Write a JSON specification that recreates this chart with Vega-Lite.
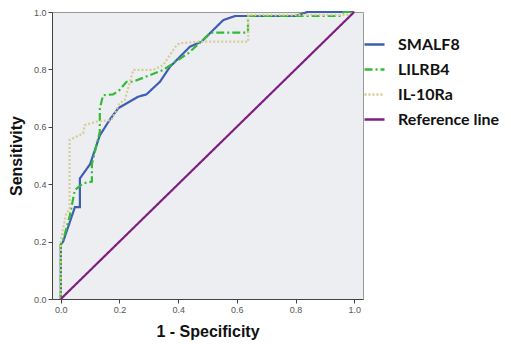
{
  "$schema": "https://vega.github.io/schema/vega-lite/v6.json",
  "width": 311,
  "height": 287,
  "autosize": "none",
  "padding": {"left": 52, "top": 12, "right": 148, "bottom": 45},
  "background": "white",
  "config": {
    "view": {"fill": "#EDEEF2", "stroke": "#999999", "strokeWidth": 1},
    "axis": {"grid": false, "labelFont": "Liberation Sans", "labelFontSize": 9, "labelColor": "#555555", "domainColor": "#444444", "tickColor": "#444444", "tickSize": 4, "titleFont": "Liberation Sans", "titleFontWeight": "bold", "titleFontSize": 16, "titleColor": "#111111"}
  },
  "data": {"values": [
    {"s": "SMALF8", "o": 1, "x": 0, "y": 0},
    {"s": "SMALF8", "o": 2, "x": 0, "y": 0.19},
    {"s": "SMALF8", "o": 3, "x": 0.008, "y": 0.2},
    {"s": "SMALF8", "o": 4, "x": 0.048, "y": 0.32},
    {"s": "SMALF8", "o": 5, "x": 0.065, "y": 0.32},
    {"s": "SMALF8", "o": 6, "x": 0.065, "y": 0.42},
    {"s": "SMALF8", "o": 7, "x": 0.1, "y": 0.47},
    {"s": "SMALF8", "o": 8, "x": 0.133, "y": 0.57},
    {"s": "SMALF8", "o": 9, "x": 0.167, "y": 0.625},
    {"s": "SMALF8", "o": 10, "x": 0.196, "y": 0.665},
    {"s": "SMALF8", "o": 11, "x": 0.264, "y": 0.705},
    {"s": "SMALF8", "o": 12, "x": 0.292, "y": 0.713},
    {"s": "SMALF8", "o": 13, "x": 0.338, "y": 0.757},
    {"s": "SMALF8", "o": 14, "x": 0.372, "y": 0.809},
    {"s": "SMALF8", "o": 15, "x": 0.44, "y": 0.879},
    {"s": "SMALF8", "o": 16, "x": 0.48, "y": 0.897},
    {"s": "SMALF8", "o": 17, "x": 0.531, "y": 0.949},
    {"s": "SMALF8", "o": 18, "x": 0.554, "y": 0.972},
    {"s": "SMALF8", "o": 19, "x": 0.594, "y": 0.986},
    {"s": "SMALF8", "o": 20, "x": 0.8, "y": 0.986},
    {"s": "SMALF8", "o": 21, "x": 0.84, "y": 1.0},
    {"s": "SMALF8", "o": 22, "x": 1, "y": 1},
    {"s": "LILRB4", "o": 1, "x": 0, "y": 0},
    {"s": "LILRB4", "o": 2, "x": 0, "y": 0.19},
    {"s": "LILRB4", "o": 3, "x": 0.008, "y": 0.206},
    {"s": "LILRB4", "o": 4, "x": 0.03, "y": 0.287},
    {"s": "LILRB4", "o": 5, "x": 0.048, "y": 0.38},
    {"s": "LILRB4", "o": 6, "x": 0.076, "y": 0.403},
    {"s": "LILRB4", "o": 7, "x": 0.106, "y": 0.409},
    {"s": "LILRB4", "o": 8, "x": 0.106, "y": 0.47},
    {"s": "LILRB4", "o": 9, "x": 0.133, "y": 0.583},
    {"s": "LILRB4", "o": 10, "x": 0.133, "y": 0.664},
    {"s": "LILRB4", "o": 11, "x": 0.144, "y": 0.71},
    {"s": "LILRB4", "o": 12, "x": 0.178, "y": 0.713},
    {"s": "LILRB4", "o": 13, "x": 0.2, "y": 0.728},
    {"s": "LILRB4", "o": 14, "x": 0.224, "y": 0.757},
    {"s": "LILRB4", "o": 15, "x": 0.245, "y": 0.757},
    {"s": "LILRB4", "o": 16, "x": 0.304, "y": 0.78},
    {"s": "LILRB4", "o": 17, "x": 0.349, "y": 0.798},
    {"s": "LILRB4", "o": 18, "x": 0.434, "y": 0.856},
    {"s": "LILRB4", "o": 19, "x": 0.49, "y": 0.908},
    {"s": "LILRB4", "o": 20, "x": 0.51, "y": 0.928},
    {"s": "LILRB4", "o": 21, "x": 0.638, "y": 0.928},
    {"s": "LILRB4", "o": 22, "x": 0.638, "y": 0.986},
    {"s": "LILRB4", "o": 23, "x": 0.95, "y": 0.986},
    {"s": "LILRB4", "o": 24, "x": 0.965, "y": 1.0},
    {"s": "LILRB4", "o": 25, "x": 1, "y": 1},
    {"s": "IL-10Ra", "o": 1, "x": 0, "y": 0},
    {"s": "IL-10Ra", "o": 2, "x": 0, "y": 0.206},
    {"s": "IL-10Ra", "o": 3, "x": 0.019, "y": 0.3},
    {"s": "IL-10Ra", "o": 4, "x": 0.03, "y": 0.31},
    {"s": "IL-10Ra", "o": 5, "x": 0.03, "y": 0.554},
    {"s": "IL-10Ra", "o": 6, "x": 0.076, "y": 0.577},
    {"s": "IL-10Ra", "o": 7, "x": 0.082, "y": 0.606},
    {"s": "IL-10Ra", "o": 8, "x": 0.122, "y": 0.618},
    {"s": "IL-10Ra", "o": 9, "x": 0.173, "y": 0.624},
    {"s": "IL-10Ra", "o": 10, "x": 0.2, "y": 0.682},
    {"s": "IL-10Ra", "o": 11, "x": 0.218, "y": 0.693},
    {"s": "IL-10Ra", "o": 12, "x": 0.247, "y": 0.798},
    {"s": "IL-10Ra", "o": 13, "x": 0.315, "y": 0.798},
    {"s": "IL-10Ra", "o": 14, "x": 0.349, "y": 0.815},
    {"s": "IL-10Ra", "o": 15, "x": 0.395, "y": 0.885},
    {"s": "IL-10Ra", "o": 16, "x": 0.406, "y": 0.891},
    {"s": "IL-10Ra", "o": 17, "x": 0.474, "y": 0.897},
    {"s": "IL-10Ra", "o": 18, "x": 0.639, "y": 0.897},
    {"s": "IL-10Ra", "o": 19, "x": 0.639, "y": 0.99},
    {"s": "IL-10Ra", "o": 20, "x": 0.98, "y": 0.99},
    {"s": "IL-10Ra", "o": 21, "x": 1, "y": 1},
    {"s": "Reference line", "o": 1, "x": 0, "y": 0},
    {"s": "Reference line", "o": 2, "x": 1, "y": 1}
  ]},
  "mark": {"type": "line", "strokeWidth": 2.2},
  "encoding": {
    "x": {"field": "x", "type": "quantitative", "scale": {"domain": [-0.03, 1.03], "nice": false, "zero": false},
      "axis": {"values": [0, 0.2, 0.4, 0.6, 0.8, 1.0], "format": ".1f", "title": "1 - Specificity", "titlePadding": 9}},
    "y": {"field": "y", "type": "quantitative", "scale": {"domain": [0, 1], "nice": false},
      "axis": {"values": [0, 0.2, 0.4, 0.6, 0.8, 1.0], "format": ".1f", "title": "Sensitivity", "titlePadding": 9}},
    "order": {"field": "o", "type": "quantitative"},
    "color": {"field": "s", "type": "nominal",
      "scale": {"domain": ["SMALF8", "LILRB4", "IL-10Ra", "Reference line"], "range": ["#3F5DB3", "#33BB33", "#D6CC94", "#7E1F80"]},
      "legend": {"title": null, "orient": "none", "legendX": 311, "legendY": 21, "symbolType": "stroke", "symbolSize": 400, "symbolStrokeWidth": 2.5, "labelFont": "Lato", "labelFontWeight": "bold", "labelFontSize": 16, "labelColor": "#111111", "labelOffset": 12, "rowPadding": 5, "padding": 0}},
    "strokeDash": {"field": "s", "type": "nominal",
      "scale": {"domain": ["SMALF8", "LILRB4", "IL-10Ra", "Reference line"], "range": [[1, 0], [8, 3, 2, 3], [2, 2], [1, 0]]},
      "legend": {"title": null, "orient": "none", "legendX": 311, "legendY": 21, "symbolType": "stroke", "symbolSize": 400, "symbolStrokeWidth": 2.5, "labelFont": "Lato", "labelFontWeight": "bold", "labelFontSize": 16, "labelColor": "#111111", "labelOffset": 12, "rowPadding": 5, "padding": 0}}
  }
}
